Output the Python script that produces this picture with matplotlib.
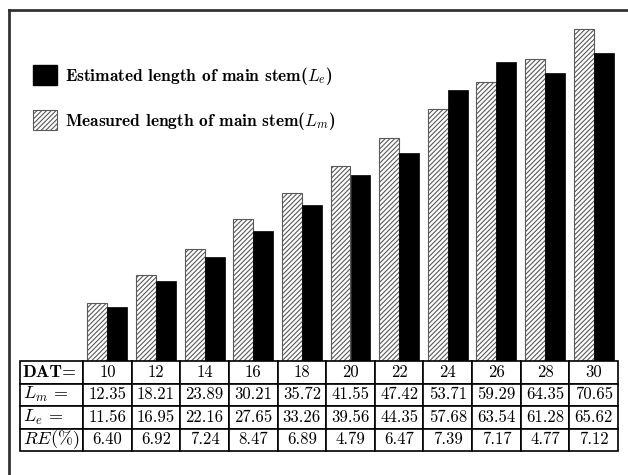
import matplotlib
matplotlib.use("Agg")
import matplotlib.pyplot as plt
from matplotlib.patches import Patch
from matplotlib.lines import Line2D

plt.rcParams['mathtext.fontset'] = 'cm'
plt.rcParams['font.family'] = ['cmr10', 'DejaVu Serif']
plt.rcParams['axes.unicode_minus'] = False
plt.rcParams['hatch.linewidth'] = 0.8

dat = [10, 12, 14, 16, 18, 20, 22, 24, 26, 28, 30]
measured = [12.35, 18.21, 23.89, 30.21, 35.72, 41.55, 47.42, 53.71, 59.29, 64.35, 70.65]
estimated = [11.56, 16.95, 22.16, 27.65, 33.26, 39.56, 44.35, 57.68, 63.54, 61.28, 65.62]
re_pct = ["6.40", "6.92", "7.24", "8.47", "6.89", "4.79", "6.47", "7.39", "7.17", "4.77", "7.12"]
row_labels = ["DAT=", r"$L_m\,=$", r"$L_e\,=$", r"$RE(\%)$"]
label_est = r"Estimated length of main stem($L_e$)"
label_meas = r"Measured length of main stem($L_m$)"

W, H = 628, 475
fig = plt.figure(figsize=(W / 100, H / 100), dpi=100)

# layout in pixels
tab_left, tab_right, tab_top, tab_bottom = 20, 618, 361, 451
lab_w = 63
col_w = (tab_right - tab_left - lab_w) / len(dat)
lab_cols = lab_w / col_w
px_per_unit = 4.70
ax_top = 10

ax = fig.add_axes([tab_left / W, (H - tab_top) / H, (tab_right - tab_left) / W, (tab_top - ax_top) / H])
x = list(range(len(dat)))
bw = 0.41
ax.bar([i - bw / 2 for i in x], measured, width=bw, color='white', edgecolor='0.35',
       hatch='///////', linewidth=0.8, label=label_meas)
ax.bar([i + bw / 2 for i in x], estimated, width=bw, color='black', edgecolor='black',
       linewidth=0.5, label=label_est)
ax.set_xlim(-0.5 - lab_cols, len(dat) - 0.5)
ax.set_ylim(0, (tab_top - ax_top) / px_per_unit)
ax.axis('off')

handles = [Patch(facecolor='black', edgecolor='black'),
           Patch(facecolor='white', edgecolor='0.35', hatch='///////', linewidth=0.8)]
leg = fig.legend(handles, [label_est, label_meas], loc='upper left',
                 bbox_to_anchor=(33 / W, 1 - 65 / H), frameon=False,
                 prop={'family': 'cmb10', 'size': 12.5},
                 handlelength=1.4, handleheight=1.4, handletextpad=0.45,
                 labelspacing=1.3, borderaxespad=0, borderpad=0)

# table
tax = fig.add_axes([tab_left / W, (H - tab_bottom) / H, (tab_right - tab_left) / W, (tab_bottom - tab_top) / H])
tax.axis('off')
cell_text = [[row_labels[0]] + [str(d) for d in dat],
             [row_labels[1]] + [f"{v:.2f}" for v in measured],
             [row_labels[2]] + [f"{v:.2f}" for v in estimated],
             [row_labels[3]] + re_pct]
total = tab_right - tab_left
widths = [lab_w / total] + [col_w / total] * len(dat)
tbl = tax.table(cellText=cell_text, colWidths=widths, bbox=[0, 0, 1, 1], cellLoc='center')
tbl.auto_set_font_size(False)
for (r, c), cell in tbl.get_celld().items():
    cell.set_linewidth(1.2)
    cell.set_edgecolor('black')
    cell.get_text().set_fontsize(12)
    if c == 0:
        cell.get_text().set_horizontalalignment('left')
        cell.PAD = 0.04
        cell.get_text().set_fontsize(13)
        if r == 0:
            cell.get_text().set_fontfamily('cmb10')

# frame lines
fig.add_artist(Line2D([9 / W, 9 / W], [0, 1 - 10 / H], color='0.2', linewidth=2, transform=fig.transFigure))
fig.add_artist(Line2D([9 / W, 1], [1 - 10 / H, 1 - 10 / H], color='0.2', linewidth=2, transform=fig.transFigure))

fig.savefig("out.png", dpi=100)
